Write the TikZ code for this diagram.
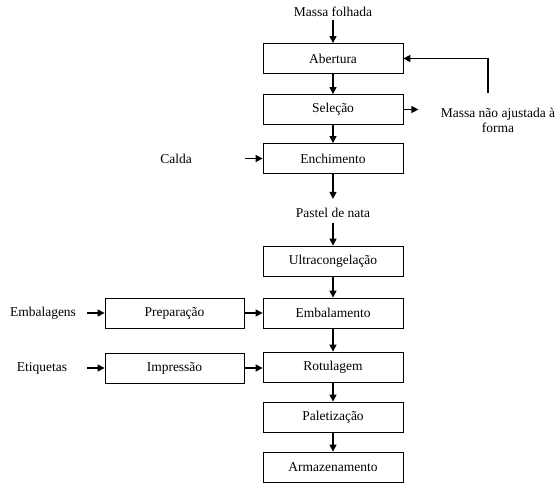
\documentclass[tikz,border=0pt]{standalone}
\usepackage{fontspec}
\setmainfont{Liberation Serif}
\usetikzlibrary{arrows.meta}
\begin{document}
\begin{tikzpicture}[x=1pt,y=-1pt,
  font=\fontsize{13.5}{15}\selectfont,
  stepbox/.style={draw, line width=0.8pt, minimum width=140pt, minimum height=30pt, inner sep=0pt},
  lbl/.style={inner sep=1pt, align=center},
  flow/.style={line width=1.3pt, -{Triangle[length=7pt,width=7pt]}}]
\useasboundingbox (0,0) rectangle (558,487);

% main process column
\node[stepbox] (abertura) at (333,58.5) {Abertura};
\node[stepbox] (selecao) at (333,109.5) {Seleção};
\node[stepbox] (enchimento) at (333,158.5) {Enchimento};
\node[stepbox] (ultra) at (333,261) {Ultracongelação};
\node[stepbox] (embalamento) at (333,313) {Embalamento};
\node[stepbox] (rotulagem) at (333,367) {Rotulagem};
\node[stepbox] (paletizacao) at (333,417) {Paletização};
\node[stepbox] (armazenamento) at (333,467) {Armazenamento};

% side preparation steps
\node[stepbox, minimum width=139pt] (preparacao) at (174.5,313) {Preparação};
\node[stepbox, minimum width=139pt] (impressao) at (174.5,368) {Impressão};

% inputs and outputs
\node[lbl] (folhada) at (333,12) {Massa folhada};
\node[lbl] (pastel) at (333,213) {Pastel de nata};
\node[lbl] (calda) at (176,159) {Calda};
\node[lbl] (embalagens) at (43,313) {Embalagens};
\node[lbl] (etiquetas) at (42,368) {Etiquetas};
\node[lbl, align=center, font=\fontsize{13.5}{15.5}\selectfont] (rejeito) at (498,120.5) {Massa não ajustada à\\forma};

% connectors
\draw[flow] (folhada.south) ++(0,2) coordinate (f0) (f0) -- (abertura.north);
\draw[flow] (abertura) -- (selecao);
\draw[flow] (selecao) -- (enchimento);
\draw[flow] (enchimento.south) -- ++(0,25) coordinate (pastelIn);
\draw[flow] (pastel.south) ++(0,4) coordinate (p0) (p0) -- (ultra.north);
\draw[flow] (ultra) -- (embalamento);
\draw[flow] (embalamento) -- (rotulagem);
\draw[flow] (rotulagem) -- (paletizacao);
\draw[flow] (paletizacao) -- (armazenamento);

\draw[flow] (selecao.east) -- ++(15,0) coordinate (rejOut);
\coordinate (ret) at (488,93);
\draw[flow] (ret) |- (abertura.east);

\draw[flow] (245,158.5) coordinate (caldaOut) -- (enchimento.west);
\draw[flow] (87,313) coordinate (embOut) -- (preparacao.west);
\draw[flow] (87,368) coordinate (etiOut) -- (impressao.west);
\draw[flow] (preparacao.east) -- (embalamento.west);
\draw[flow] (impressao.east) -- (rotulagem.west |- impressao.east);
\end{tikzpicture}
\end{document}
